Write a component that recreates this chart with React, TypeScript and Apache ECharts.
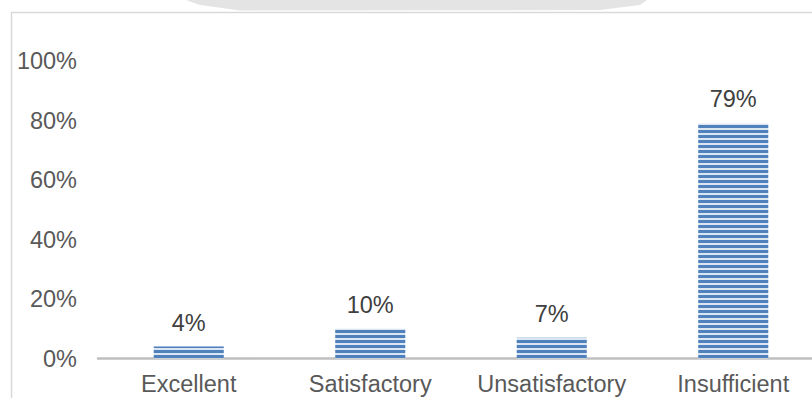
import React, { useEffect, useRef } from "react";
import * as echarts from "echarts";

const categories = ["Excellent", "Satisfactory", "Unsatisfactory", "Insufficient"];
const values = [4, 10, 7, 79];
const yTicks = [0, 20, 40, 60, 80, 100];

const FONT = "Liberation Sans, Arial, sans-serif";

export default function App() {
  const ref = useRef<HTMLDivElement>(null);
  useEffect(() => {
    if (!ref.current) return;
    const chart = echarts.init(ref.current, null, { renderer: "svg" });
    chart.setOption({
      animation: false,
      backgroundColor: "#ffffff",
      grid: { left: 98, right: 0, top: 61, bottom: 39.5, containLabel: false },
      xAxis: {
        type: "category",
        data: categories,
        axisLine: { show: true, lineStyle: { color: "#bfbfbf", width: 2.5 } },
        axisTick: { show: false },
        axisLabel: {
          color: "#595959",
          fontSize: 23.5,
          fontFamily: FONT,
          margin: 13,
          interval: 0,
          hideOverlap: false,
        },
      },
      yAxis: {
        type: "value",
        min: yTicks[0],
        max: yTicks[yTicks.length - 1],
        interval: 20,
        axisLine: { show: false },
        axisTick: { show: false },
        splitLine: { show: false },
        axisLabel: {
          color: "#595959",
          fontSize: 23.5,
          fontFamily: FONT,
          margin: 21,
          formatter: (v: number) => v + "%",
        },
      },
      graphic: [
        {
          type: "rect",
          shape: { x: 11.5, y: 12.5, width: 840, height: 400 },
          style: { fill: "none", stroke: "#d9d9d9", lineWidth: 1.5 },
          silent: true,
        },
        {
          type: "polygon",
          shape: {
            points: [
              [186, 0],
              [647, 0],
              [640, 5],
              [600, 10],
              [240, 10.5],
              [200, 5],
            ],
          },
          style: { fill: "#e4e4e4" },
          silent: true,
        },
      ],
      series: [
        {
          type: "bar",
          data: values,
          barWidth: 70,
          itemStyle: {
            color: "#dce6f2",
            decal: {
              symbol: "rect",
              symbolSize: 1,
              dashArrayX: [1, 0],
              dashArrayY: [3, 2],
              rotation: 0,
              color: "#4f81bd",
            },
          },
          label: {
            show: true,
            position: "top",
            distance: 12,
            color: "#404040",
            fontSize: 23.5,
            fontFamily: FONT,
            formatter: (p: any) => p.value + "%",
          },
        },
      ],
    });
    return () => chart.dispose();
  }, []);
  return (
    <div
      style={{
        position: "fixed",
        left: 0,
        top: 0,
        width: 812,
        height: 398,
        overflow: "hidden",
      }}
    >
      <div ref={ref} style={{ width: 824, height: 398 }} />
    </div>
  );
}
